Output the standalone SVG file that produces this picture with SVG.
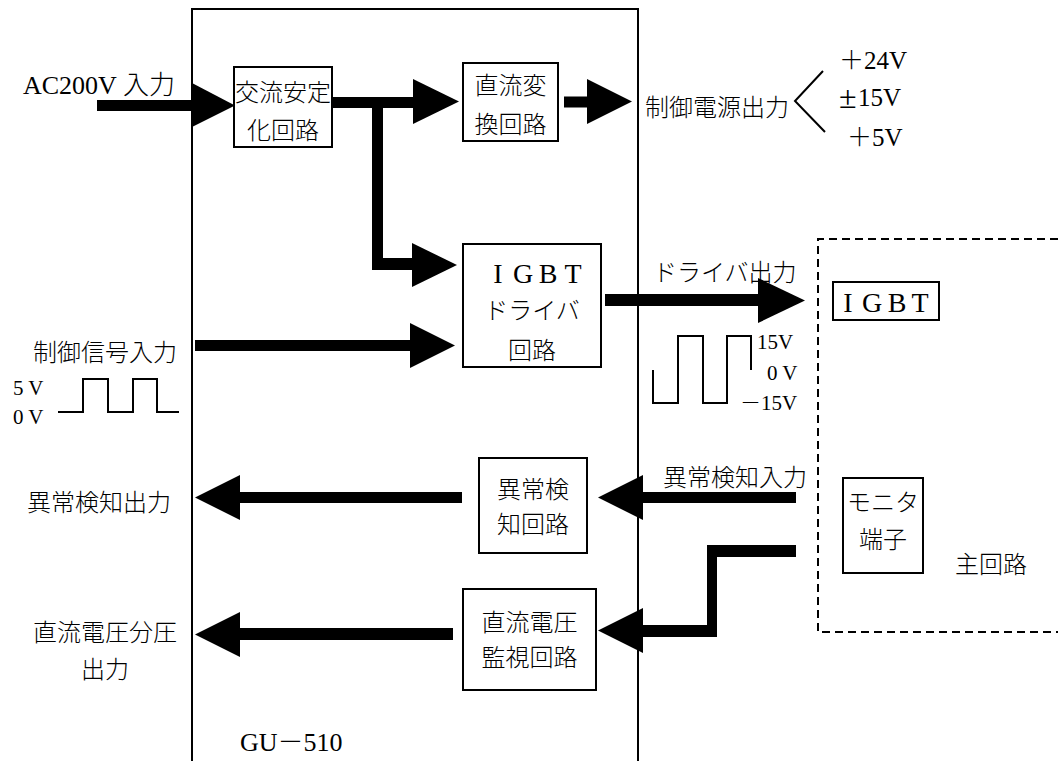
<svg xmlns="http://www.w3.org/2000/svg" width="1058" height="761" viewBox="0 0 1058 761">
<style>
.jp{font-family:"Noto Sans CJK JP","Noto Sans CJK SC",sans-serif;font-size:24px;font-weight:300;fill:#000;dominant-baseline:central}
.lat{font-family:"Liberation Serif","Noto Sans CJK JP",serif;font-weight:300;fill:#000;dominant-baseline:central}
.mid{text-anchor:middle}
.box{fill:#fff;stroke:#000;stroke-width:2}
.frame{fill:none;stroke:#000;stroke-width:2}
.dash{fill:none;stroke:#000;stroke-width:2;stroke-dasharray:8 5}
.arr{fill:#000;stroke:none}
.thin{fill:none;stroke:#000;stroke-width:2}
</style>
<g id="gu510">
<path class="frame" d="M192,761 V9 H638 V761"/>
<text class="lat" x="240" y="742" font-size="26">GU－510</text>
</g>
<g id="main-circuit">
<path class="dash" d="M1058,239 H818 V632 H1058"/>
<text class="jp" x="955" y="562" font-size="26">主回路</text>
</g>
<g id="ac-stab">
<rect class="box" x="234" y="67" width="98" height="80"/>
<text class="jp mid" x="283" y="90" font-size="21">交流安定</text>
<text class="jp mid" x="283" y="128" font-size="21">化回路</text>
</g>
<g id="dc-conv">
<rect class="box" x="463" y="63" width="95" height="78"/>
<text class="jp mid" x="510.5" y="83">直流変</text>
<text class="jp mid" x="510.5" y="122">換回路</text>
</g>
<g id="igbt-driver">
<rect class="box" x="463" y="244" width="138" height="123"/>
<text class="lat mid" x="498 523 548 573" y="273" font-size="28">IGBT</text>
<text class="jp mid" x="532" y="308" font-size="23">ドライバ</text>
<text class="jp mid" x="532" y="348">回路</text>
</g>
<g id="fault-detect">
<rect class="box" x="479" y="458" width="108" height="95"/>
<text class="jp mid" x="533" y="487">異常検</text>
<text class="jp mid" x="533" y="522">知回路</text>
</g>
<g id="dc-monitor">
<rect class="box" x="463" y="589" width="133" height="101"/>
<text class="jp mid" x="529.5" y="620">直流電圧</text>
<text class="jp mid" x="529.5" y="655">監視回路</text>
</g>
<g id="igbt">
<rect class="box" x="833" y="282" width="106" height="38"/>
<text class="lat mid" x="848 872 897 920" y="302" font-size="28">IGBT</text>
</g>
<g id="monitor-terminal">
<rect class="box" x="843" y="478" width="80" height="95"/>
<text class="jp mid" x="883" y="500" font-size="22">モニタ</text>
<text class="jp mid" x="883" y="537" font-size="22">端子</text>
</g>
<g id="connectors">
<rect class="arr" x="97" y="100" width="96" height="11"/>
<polygon class="arr" points="192,83 235,105.5 192,127"/>
<rect class="arr" x="332" y="97" width="82" height="11"/>
<polygon class="arr" points="413,79 459,101.5 413,124"/>
<path class="arr" d="M372,97 H383 V258 H413 V270 H372 Z"/>
<polygon class="arr" points="412,243 457,265 412,287"/>
<rect class="arr" x="564" y="96.5" width="24" height="11"/>
<polygon class="arr" points="587,79 632,101.5 587,124"/>
<rect class="arr" x="195" y="340" width="216" height="11"/>
<polygon class="arr" points="410,323 455,345.5 410,368"/>
<rect class="arr" x="605" y="294" width="154" height="12"/>
<polygon class="arr" points="758,278 805,300.5 758,323"/>
<polygon class="arr" points="195,497.5 240,475 240,520"/>
<rect class="arr" x="239" y="492" width="223" height="11"/>
<polygon class="arr" points="598,497.5 643,475 643,520"/>
<rect class="arr" x="642" y="492" width="154" height="11"/>
<polygon class="arr" points="796,545 707,545 707,625 642,625 642,637 717,637 717,557 796,557"/>
<polygon class="arr" points="598,630.5 643,608 643,653"/>
<polygon class="arr" points="195,634.5 240,612 240,657"/>
<rect class="arr" x="239" y="628" width="214" height="12"/>
<polyline class="thin" points="823,71 795,101 825,132"/>
</g>
<g id="labels">
<text class="lat" x="23" y="85" font-size="26">AC200V 入力</text>
<text class="jp" x="645" y="105">制御電源出力</text>
<text class="lat" x="839" y="60" font-size="25">＋24V</text>
<text class="lat" x="839" y="97" font-size="25"><tspan font-size="32">±</tspan><tspan x="858">15V</tspan></text>
<text class="lat" x="847" y="137" font-size="25">＋5V</text>
<text class="jp" x="653" y="270" font-size="23">ドライバ出力</text>
<text class="jp" x="33" y="350">制御信号入力</text>
<text class="jp" x="27" y="500">異常検知出力</text>
<text class="jp" x="663" y="475">異常検知入力</text>
<text class="jp" x="33" y="630">直流電圧分圧</text>
<text class="jp mid" x="105" y="667">出力</text>
</g>
<g id="waveforms">
<polyline class="thin" points="58,412 83,412 83,379 108,379 108,412 133,412 133,379 157,379 157,412 179,412"/>
<text class="lat" x="13" y="388" font-size="21">5 V</text>
<text class="lat" x="13" y="417" font-size="21">0 V</text>
<polyline class="thin" points="653,370 653,403 678,403 678,336 703,336 703,403 727,403 727,336 751,336 751,370"/>
<text class="lat" x="757" y="342" font-size="21">15V</text>
<text class="lat" x="767" y="373" font-size="21">0 V</text>
<text class="lat" x="740" y="403" font-size="21">－15V</text>
</g>
</svg>
